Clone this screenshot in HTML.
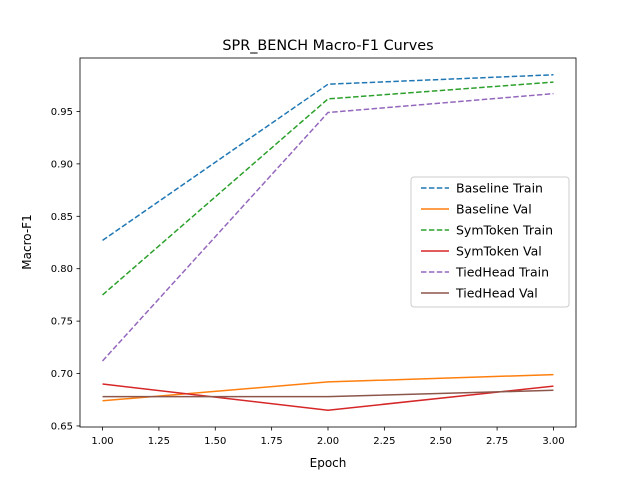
<!DOCTYPE html>
<html><head><meta charset="utf-8"><style>
body{margin:0;background:#fff}
svg{display:block;font-family:"DejaVu Sans","Liberation Sans",sans-serif}
</style></head><body>
<svg id="chart" width="640" height="480" viewBox="0 0 640 480">
<rect x="0" y="0" width="640" height="480" fill="#fff"/>
<text x="328" y="50" text-anchor="middle" font-size="14.4">SPR_BENCH Macro-F1 Curves</text>
<g id="xt"></g>
<g id="yt"></g>
<g id="lines"></g>
<rect x="80" y="58" width="496" height="369" fill="none" stroke="#000" stroke-width="0.8"/>
<text x="328" y="467" text-anchor="middle" font-size="12">Epoch</text>
<text transform="translate(31,242) rotate(-90)" text-anchor="middle" font-size="12">Macro-F1</text>
<g id="legend"></g>
</svg>
<script>
const epochs = [1, 2, 3];
const seriesNames = ["Baseline Train","Baseline Val","SymToken Train","SymToken Val","TiedHead Train","TiedHead Val"];
const baselineTrain = [0.827, 0.976, 0.985];
const baselineVal = [0.674, 0.692, 0.699];
const symTrain = [0.775, 0.962, 0.978];
const symVal = [0.690, 0.665, 0.688];
const tiedTrain = [0.712, 0.949, 0.967];
const tiedVal = [0.678, 0.678, 0.684];
const xTicks = ["1.00","1.25","1.50","1.75","2.00","2.25","2.50","2.75","3.00"];
const yTicks = ["0.65","0.70","0.75","0.80","0.85","0.90","0.95"];

const NS="http://www.w3.org/2000/svg";
const X0=80,X1=576,Y0=427,Y1=58;
const all=[].concat(baselineTrain,baselineVal,symTrain,symVal,tiedTrain,tiedVal);
const ymn=Math.min(...all),ymx=Math.max(...all),pad=(ymx-ymn)*0.05;
const ylo=ymn-pad,yhi=ymx+pad;
const xr=Math.max(...epochs)-Math.min(...epochs);
const xlo=Math.min(...epochs)-0.05*xr,xhi=Math.max(...epochs)+0.05*xr;
const xs=v=>X0+(v-xlo)/(xhi-xlo)*(X1-X0);
const ys=v=>Y0-(v-ylo)/(yhi-ylo)*(Y0-Y1);
function mk(t,a,p){const e=document.createElementNS(NS,t);for(const k in a)e.setAttribute(k,a[k]);p.appendChild(e);return e;}
const xt=document.getElementById('xt'),yt=document.getElementById('yt');
xTicks.forEach(l=>{const x=xs(parseFloat(l));
 const t=mk('line',{x1:x,x2:x,y1:Y0,y2:Y0+3.5,stroke:'#000','stroke-width':0.8},xt);
 
 
 const tx=mk('text',{x:x,y:Y0+17,'text-anchor':'middle','font-size':10},xt);tx.textContent=l;
 
 });
yTicks.forEach(l=>{const y=ys(parseFloat(l));
 const t=mk('line',{x1:X0-3.5,x2:X0,y1:y,y2:y,stroke:'#000','stroke-width':0.8},yt);
 
 
 const tx=mk('text',{x:X0-7,y:y+3.5,'text-anchor':'end','font-size':10},yt);tx.textContent=l;
 
 });
const data=[baselineTrain,baselineVal,symTrain,symVal,tiedTrain,tiedVal];
const colors=['#1f77b4','#ff7f0e','#2ca02c','#d62728','#9467bd','#8c564b'];
const lg=document.getElementById('legend');
const g=document.getElementById('lines');
const lb=mk('rect',{x:411,y:177,width:158,height:130,rx:3,fill:'#fff','fill-opacity':0.8,stroke:'#ccc'},lg);


data.forEach((d,i)=>{const dash=i%2===0?'5.5,2.4':'none';
 const p=mk('polyline',{points:d.map((v,j)=>xs(epochs[j])+','+ys(v)).join(' '),fill:'none',stroke:colors[i],'stroke-width':1.5,'stroke-dasharray':dash},g);
 
 
 const y=188+i*21;
 const ll=mk('line',{x1:421,x2:449,y1:y,y2:y,stroke:colors[i],'stroke-width':1.5,'stroke-dasharray':dash},lg);
 
 
 const tx=mk('text',{x:456,y:y+4.5,'font-size':12.5},lg);tx.textContent=seriesNames[i];
 
 });
</script>
</body></html>
